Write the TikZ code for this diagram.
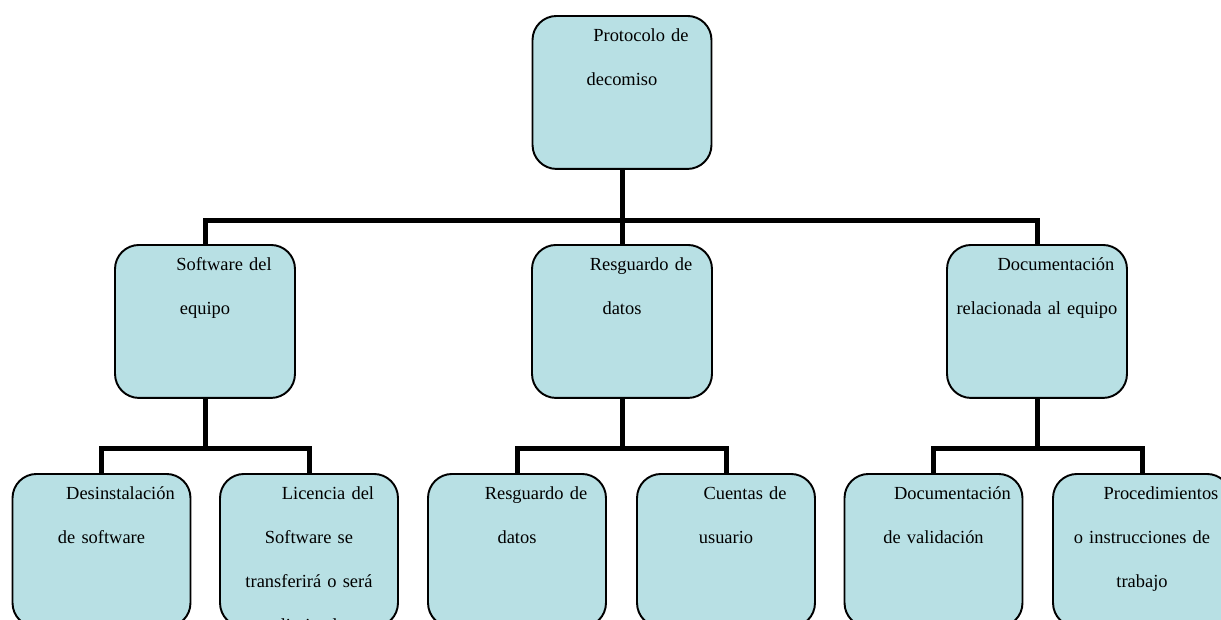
\documentclass[tikz,border=0pt]{standalone}
\usepackage{fontspec}
\setmainfont{Liberation Serif}
\definecolor{cajaazul}{RGB}{184,224,228}
\newcommand{\sangria}{\hspace*{0.76cm}}
\tikzset{
  caja/.style={draw, fill=cajaazul, line width=1.1pt, rounded corners=0.48cm,
    anchor=north, inner sep=0pt, text width=#1, align=center,
    text height=0.52cm, text depth=2.54cm,
    font=\fontsize{10.5pt}{25pt}\selectfont},
  caja/.default=3.56cm,
  rama/.style={line width=0.1cm}
}
\begin{document}
\begin{tikzpicture}[x=0.02cm,y=-0.02cm]
    \useasboundingbox (0,0) rectangle (1221,619);
    \clip (0,0) rectangle (1221,619);
    %% raiz
    \node[caja=3.58cm] (protocolo) at (622,15) {\sangria Protocolo de\\decomiso};
    %% segundo nivel
    \node[caja=3.6cm] (software) at (205,244) {\sangria Software del\\equipo};
    \node[caja=3.6cm] (resguardo) at (622,244) {\sangria Resguardo de\\datos};
    \node[caja=3.6cm] (documentacion) at (1037,244) {\sangria Documentación\\relacionada al equipo};
    %% tercer nivel
    \node[caja] (desinst) at (101.5,473) {\sangria Desinstalación\\de software};
    \node[caja] (licencia) at (309,473) {\sangria Licencia del\\Software se\\transferirá o será\\eliminada};
    \node[caja] (resgdatos) at (517,473) {\sangria Resguardo de\\datos};
    \node[caja] (cuentas) at (726,473) {\sangria Cuentas de\\usuario};
    \node[caja] (docval) at (933.5,473) {\sangria Documentación\\de validación};
    \node[caja] (proced) at (1142,473) {\sangria Procedimientos\\o instrucciones de\\trabajo};
    %% conectores
    \coordinate (j0) at (622,220);
    \draw[rama] (protocolo.south) -- (j0);
    \draw[rama] (software.north) |- (j0) -| (documentacion.north);
    \draw[rama] (j0) -- (resguardo.north);
    \coordinate (j1) at (205,448);
    \draw[rama] (software.south) -- (j1);
    \draw[rama] (desinst.north) |- (j1) -| (licencia.north);
    \coordinate (j2) at (622,448);
    \draw[rama] (resguardo.south) -- (j2);
    \draw[rama] (resgdatos.north) |- (j2) -| (cuentas.north);
    \coordinate (j3) at (1037,448);
    \draw[rama] (documentacion.south) -- (j3);
    \draw[rama] (docval.north) |- (j3) -| (proced.north);
\end{tikzpicture}
\end{document}
